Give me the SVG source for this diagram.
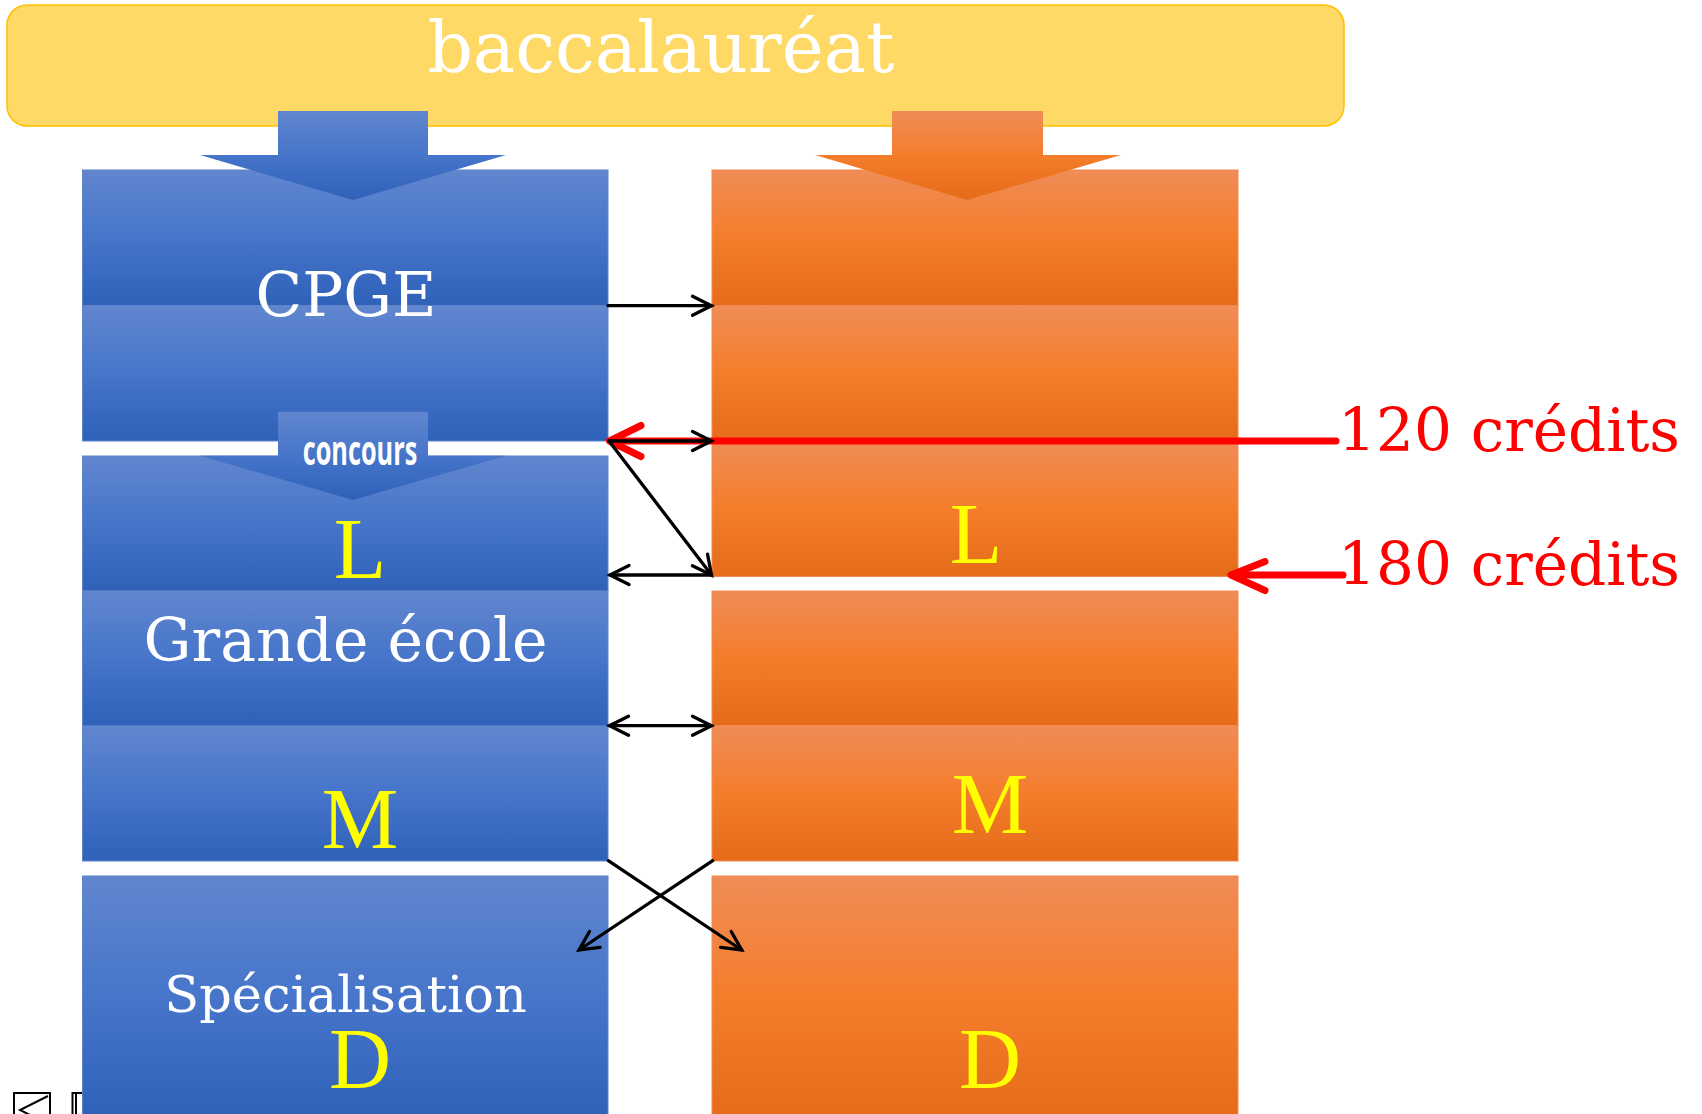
<svg xmlns="http://www.w3.org/2000/svg" width="1702" height="1114" viewBox="0 0 1702 1114">
<defs>
<linearGradient id="gb" x1="0" y1="0" x2="0" y2="1">
<stop offset="0" stop-color="#6186CE"/>
<stop offset="0.5" stop-color="#4675CA"/>
<stop offset="1" stop-color="#2F61B9"/>
</linearGradient>
<linearGradient id="go" x1="0" y1="0" x2="0" y2="1">
<stop offset="0" stop-color="#F08C57"/>
<stop offset="0.5" stop-color="#F47D2B"/>
<stop offset="1" stop-color="#E56B18"/>
</linearGradient>
<marker id="ah" viewBox="-24 -13 28 26" refX="0" refY="0" markerWidth="28" markerHeight="26" markerUnits="userSpaceOnUse" orient="auto-start-reverse">
<path d="M-19,-9.5 L0,0 L-19,9.5" fill="none" stroke="#000" stroke-width="3.3" stroke-linecap="round" stroke-linejoin="miter"/>
</marker>
<style>
.bs{fill:url(#gb);stroke:#5F84CC;stroke-width:1}
.os{fill:url(#go);stroke:#EF8A53;stroke-width:1}
.wt{font-family:"DejaVu Serif","Liberation Serif",serif;fill:#FFFFFF;text-anchor:middle}
.yl{font-family:"Liberation Serif","Times New Roman",serif;font-size:86px;fill:#FFFF00;text-anchor:middle}
.rt{font-family:"DejaVu Serif","Liberation Serif",serif;font-size:60px;fill:#FF0000}
.cn{fill:none;stroke:#000;stroke-width:3.3;stroke-linecap:round}
.rd{fill:none;stroke:#FF0000;stroke-width:7;stroke-linecap:round;stroke-linejoin:round}
</style>
</defs>
<rect width="1702" height="1114" fill="#FFFFFF"/>

<g id="nav-icons" fill="#FFFFFF" stroke="#000" stroke-width="2">
<rect x="14" y="1093" width="36" height="40"/>
<polyline points="48,1096 20,1110 48,1124" fill="none"/>
<rect x="72.5" y="1093" width="30" height="40"/>
<line x1="76" y1="1093" x2="76" y2="1114"/>
</g>

<g id="baccalaureat">
<rect x="7" y="5" width="1337" height="121" rx="20" ry="20" fill="#FFD966" stroke="#FFC000" stroke-width="1.5"/>
<text class="wt" x="661" y="72" font-size="71">baccalauréat</text>
</g>

<g id="cpge">
<rect class="bs" x="82.5" y="170" width="525.5" height="135.5"/>
<rect class="bs" x="82.5" y="305.5" width="525.5" height="135.5"/>
<text class="wt" x="346" y="316" font-size="61" textLength="181" lengthAdjust="spacingAndGlyphs">CPGE</text>
</g>

<g id="grande-ecole">
<rect class="bs" x="82.5" y="456" width="525.5" height="135"/>
<rect class="bs" x="82.5" y="591" width="525.5" height="135"/>
<rect class="bs" x="82.5" y="726" width="525.5" height="135"/>
<text class="yl" x="360" y="578">L</text>
<text class="wt" x="345.5" y="661" font-size="60">Grande école</text>
<text class="yl" x="360" y="848">M</text>
</g>

<g id="specialisation">
<rect class="bs" x="82.5" y="876" width="525.5" height="245"/>
<text class="wt" x="345.5" y="1012" font-size="51">Spécialisation</text>
<text class="yl" x="360" y="1088">D</text>
</g>

<g id="universite">
<rect class="os" x="712" y="170" width="526" height="135.5"/>
<rect class="os" x="712" y="305.5" width="526" height="135.5"/>
<rect class="os" x="712" y="441" width="526" height="135.5"/>
<rect class="os" x="712" y="591" width="526" height="134.5"/>
<rect class="os" x="712" y="725.5" width="526" height="135.5"/>
<rect class="os" x="712" y="876" width="526" height="245"/>
<text class="yl" x="976" y="563">L</text>
<text class="yl" x="990" y="833">M</text>
<text class="yl" x="990" y="1088">D</text>
</g>

<g id="arrow-bac-cpge">
<path d="M278,111 H428 V155 H506 L353,200 L200,155 H278 Z" fill="url(#gb)"/>
</g>
<g id="arrow-bac-univ">
<path d="M892,111 H1043 V155 H1121 L967,200 L815,155 H892 Z" fill="url(#go)"/>
</g>
<g id="concours">
<path d="M278,411.7 H428 V455.7 H506 L353,500 L200,455.7 H278 Z" fill="url(#gb)"/>
<text x="360" y="465" font-family="'Liberation Sans Narrow','Open Sans',sans-serif" font-weight="bold" font-size="42" fill="#FFFFFF" text-anchor="middle" textLength="114.6" lengthAdjust="spacingAndGlyphs">concours</text>
</g>

<g id="credits">
<line class="rd" x1="612" y1="441" x2="1336" y2="441"/>
<polyline class="rd" points="641,425.5 609.5,441 641,456.5"/>
<text class="rt" x="1338" y="451" textLength="342" lengthAdjust="spacingAndGlyphs">120 crédits</text>
<line class="rd" x1="1234" y1="575" x2="1343" y2="575"/>
<polyline class="rd" points="1265,561.5 1231,575 1265,590.5"/>
<text class="rt" x="1338" y="585" textLength="342" lengthAdjust="spacingAndGlyphs">180 crédits</text>
</g>

<g id="connectors">
<line class="cn" x1="608" y1="305.7" x2="711.5" y2="305.7" marker-end="url(#ah)"/>
<line class="cn" x1="609" y1="441" x2="711.5" y2="441" marker-end="url(#ah)"/>
<line class="cn" x1="609" y1="441" x2="711.5" y2="575" marker-end="url(#ah)"/>
<line class="cn" x1="711.5" y1="575" x2="610" y2="575" marker-end="url(#ah)"/>
<line class="cn" x1="609.5" y1="725.7" x2="711.5" y2="725.7" marker-start="url(#ah)" marker-end="url(#ah)"/>
<line class="cn" x1="608.3" y1="860.7" x2="741.7" y2="950" marker-end="url(#ah)"/>
<line class="cn" x1="712.7" y1="860.7" x2="579" y2="950" marker-end="url(#ah)"/>
</g>
</svg>
